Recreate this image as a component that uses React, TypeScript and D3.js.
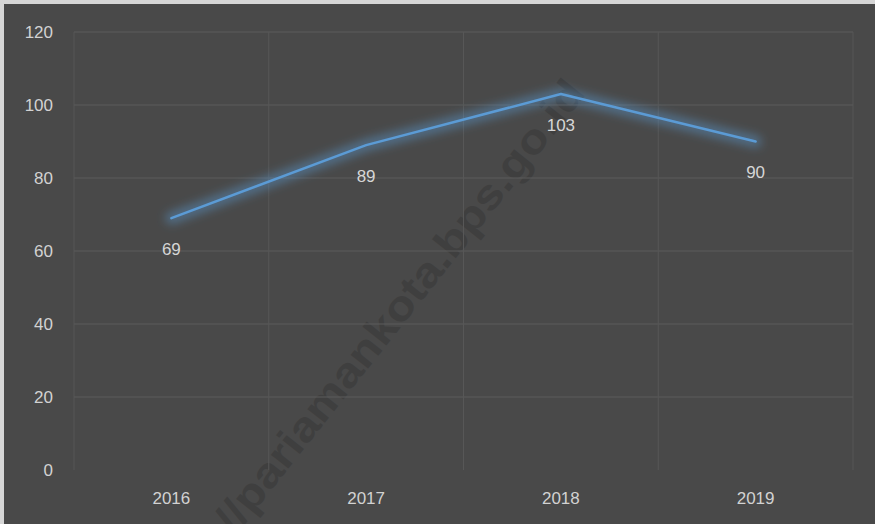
import React from 'react';
import * as d3 from 'd3';

const years = ['2016', '2017', '2018', '2019'];
const values = [69, 89, 103, 90];
const yTicks = [0, 20, 40, 60, 80, 100, 120];

const W = 875;
const H = 524;
const plot = { left: 74, right: 853, top: 32, bottom: 470 };

const App = () => {
    const x = d3.scaleBand().domain(years).range([plot.left, plot.right]).padding(0);
    const y = d3.scaleLinear().domain([0, 120]).range([plot.bottom, plot.top]);

    const cx = (d: string) => (x(d) as number) + x.bandwidth() / 2;
    const pts: [number, number][] = years.map((d, i) => [cx(d), y(values[i])]);
    const line = d3.line()(pts) || '';

    const gridX = years.map(d => x(d) as number).concat([plot.right]);

    return (
        <svg width={W} height={H} style={{ position: 'absolute', left: 0, top: 0 }}
            fontFamily="'Liberation Sans', Arial, sans-serif">
            <defs>
                <filter id="glow" x="-20%" y="-50%" width="140%" height="200%">
                    <feGaussianBlur stdDeviation="5" />
                </filter>
            </defs>
            <rect x={0} y={0} width={W} height={H} fill="#d6d6d6" />
            <rect x={4} y={4} width={W - 4} height={H - 4} fill="#494949" />

            {/* watermark */}
            <text transform="translate(402,308) rotate(-51.5)" textAnchor="middle" dominantBaseline="middle"
                fontSize={42} fontWeight="bold" fill="#3f3f3f" textLength={565} lengthAdjust="spacingAndGlyphs">
                //pariamankota.bps.go.id
            </text>

            {/* grid */}
            {yTicks.filter(t => t > 0).map(t => (
                <line key={t} x1={plot.left} x2={plot.right} y1={y(t)} y2={y(t)} stroke="#5d5d5d" strokeWidth={1} />
            ))}
            {gridX.map((gx, i) => (
                <line key={i} x1={gx} x2={gx} y1={plot.top} y2={plot.bottom} stroke="#575757" strokeWidth={1} />
            ))}

            {/* y labels */}
            {yTicks.map(t => (
                <text key={t} x={53} y={y(t)} dy="0.35em" textAnchor="end" fontSize={17} fill="#d2d2d2">{t}</text>
            ))}

            {/* x labels */}
            {years.map(d => (
                <text key={d} x={cx(d)} y={498} dy="0.35em" textAnchor="middle" fontSize={17} fill="#d2d2d2">{d}</text>
            ))}

            {/* line with glow */}
            <path d={line} fill="none" stroke="#5b9bd5" strokeWidth={12} strokeOpacity={0.45}
                strokeLinejoin="round" strokeLinecap="round" filter="url(#glow)" />
            <path d={line} fill="none" stroke="#5b9bd5" strokeWidth={2.5} strokeLinejoin="round" strokeLinecap="round" />

            {/* data labels */}
            {pts.map((p, i) => (
                <text key={i} x={p[0]} y={p[1] + 31} dy="0.35em" textAnchor="middle" fontSize={17} fill="#d6d6d6">
                    {values[i]}
                </text>
            ))}
        </svg>
    );
};

export default App;
